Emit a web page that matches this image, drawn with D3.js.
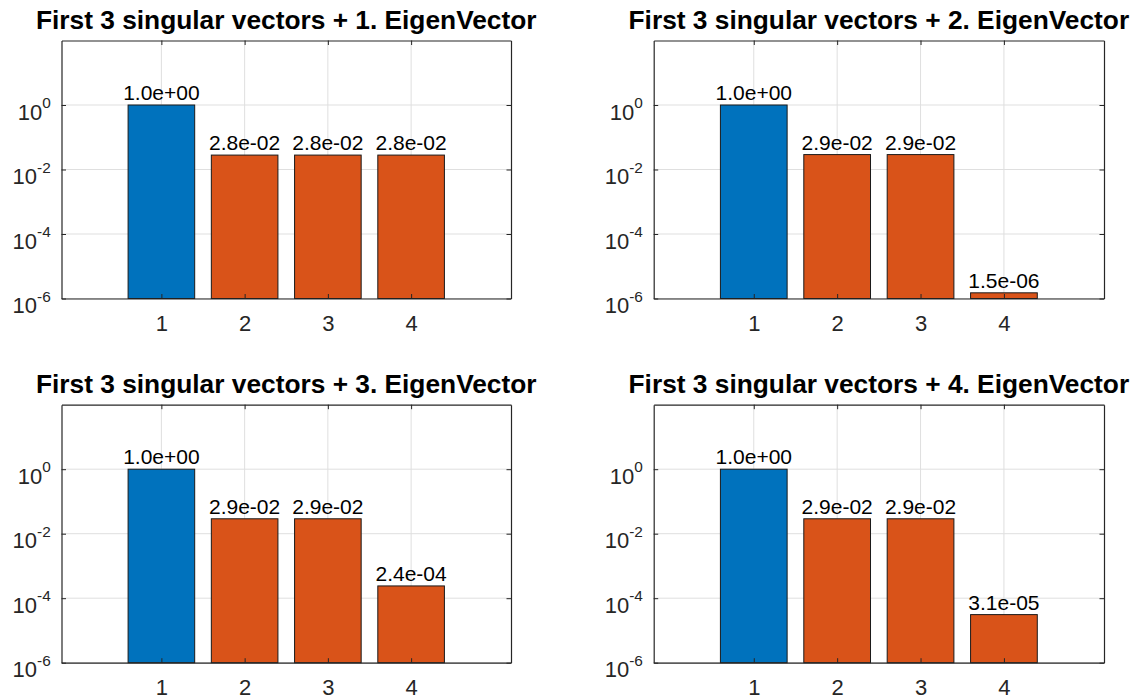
<!DOCTYPE html>
<html><head><meta charset="utf-8">
<script src="https://cdn.jsdelivr.net/npm/d3@7"></script>
<style>body{margin:0;background:#fff} svg{display:block}</style>
</head><body>
<script>
// ---- data ----
const categories = [1, 2, 3, 4];
const titles = [
  "First 3 singular vectors + 1. EigenVector",
  "First 3 singular vectors + 2. EigenVector",
  "First 3 singular vectors + 3. EigenVector",
  "First 3 singular vectors + 4. EigenVector"
];
const values1 = [1.0, 2.8e-2, 2.8e-2, 2.8e-2];
const values2 = [1.0, 2.9e-2, 2.9e-2, 1.5e-6];
const values3 = [1.0, 2.9e-2, 2.9e-2, 2.4e-4];
const values4 = [1.0, 2.9e-2, 2.9e-2, 3.1e-5];
const yTicks = [1e-6, 1e-4, 1e-2, 1];
const yTickExponents = ["-6", "-4", "-2", "0"];
const xTicks = [1, 2, 3, 4];
const xDomain = [-0.2, 5.2];
const yDomain = [1e-6, 1e2];

const allValues = [values1, values2, values3, values4];

// ---- layout / style ----
const W = 1143, H = 700;
const panels = [
  {x0: 61.5, x1: 511, y0: 40.5, y1: 298.5},
  {x0: 653.7, x1: 1104, y0: 40.5, y1: 298.5},
  {x0: 61.5, x1: 511, y0: 404.7, y1: 662.7},
  {x0: 653.7, x1: 1104, y0: 404.7, y1: 662.7}
];
const blue = "#0072BD", orange = "#D95319";
const axisColor = "#262626", gridColor = "#dfdfdf";
const font = "'Liberation Sans', Arial, Helvetica, sans-serif";
const tickLen = 4.5;

function fmtExp(v) {
  let s = v.toExponential(1);           // e.g. 2.8e-2
  return s.replace(/e([+-])(\d)$/, "e$10$2");
}

const svg = d3.select("body").append("svg")
  .attr("width", W).attr("height", H)
  .style("font-family", font);

panels.forEach((p, i) => {
  const vals = allValues[i];
  const xs = d3.scaleLinear().domain(xDomain).range([p.x0, p.x1]);
  const ys = d3.scaleLog().domain(yDomain).range([p.y1, p.y0]);
  const g = svg.append("g");

  // grid
  g.append("g").selectAll("line.gx").data(xTicks).join("line")
    .attr("x1", d => xs(d)).attr("x2", d => xs(d))
    .attr("y1", p.y0).attr("y2", p.y1)
    .attr("stroke", gridColor).attr("stroke-width", 1);
  g.append("g").selectAll("line.gy").data(yTicks).join("line")
    .attr("x1", p.x0).attr("x2", p.x1)
    .attr("y1", d => ys(d)).attr("y2", d => ys(d))
    .attr("stroke", gridColor).attr("stroke-width", 1);

  // bars
  const data = categories.map((c, k) => ({c, v: vals[k], k}));
  g.append("g").selectAll("rect").data(data).join("rect")
    .attr("x", d => xs(d.c - 0.4))
    .attr("width", d => xs(d.c + 0.4) - xs(d.c - 0.4))
    .attr("y", d => ys(d.v))
    .attr("height", d => ys(yDomain[0]) - ys(d.v))
    .attr("fill", d => d.k === 0 ? blue : orange)
    .attr("stroke", "#1a1a1a").attr("stroke-width", 1);

  // bar labels
  g.append("g").selectAll("text").data(data).join("text")
    .attr("x", d => xs(d.c))
    .attr("y", d => ys(d.v) - 5)
    .attr("text-anchor", "middle")
    .attr("font-size", 21)
    .attr("fill", "#000")
    .text(d => fmtExp(d.v));

  // axes (box + ticks, on top)
  const xAxisB = d3.axisBottom(xs).tickValues(xTicks).tickSize(-tickLen).tickSizeOuter(0).tickFormat(d3.format("d"));
  const xAxisT = d3.axisTop(xs).tickValues(xTicks).tickSize(-tickLen).tickSizeOuter(0).tickFormat("");
  const yAxisL = d3.axisLeft(ys).tickValues(yTicks).tickSize(-tickLen).tickSizeOuter(0);
  const yAxisR = d3.axisRight(ys).tickValues(yTicks).tickSize(-tickLen).tickSizeOuter(0).tickFormat("");

  const gb = g.append("g").attr("transform", `translate(0,${p.y1})`).call(xAxisB);
  gb.selectAll("text").attr("y", 32).attr("dy", null)
    .attr("font-size", 22).attr("font-family", font).attr("fill", axisColor);
  g.append("g").attr("transform", `translate(0,${p.y0})`).call(xAxisT);
  const gl = g.append("g").attr("transform", `translate(${p.x0},0)`).call(yAxisL);
  gl.selectAll("text").each(function(d, j) {
    const t = d3.select(this);
    t.text(null).attr("x", -10.8).attr("dy", null).attr("y", 0)
      .attr("font-family", font).attr("fill", axisColor).attr("text-anchor", "end");
    const idx = yTicks.indexOf(d);
    t.append("tspan").attr("dy", 14).attr("font-size", 22).text("10");
    t.append("tspan").attr("dy", -11.3).attr("font-size", 15.4).text(yTickExponents[idx]);
  });
  g.append("g").attr("transform", `translate(${p.x1},0)`).call(yAxisR);

  g.selectAll(".domain").attr("stroke", axisColor).attr("stroke-width", 1.2);
  g.selectAll(".tick line").attr("stroke", axisColor).attr("stroke-width", 1);

  // title
  svg.append("text")
    .attr("x", (p.x0 + p.x1) / 2)
    .attr("y", p.y0 - 11.3)
    .attr("text-anchor", "middle")
    .attr("font-size", 26.3)
    .attr("font-weight", "bold")
    .attr("fill", "#000")
    .text(titles[i]);
});
</script>
</body></html>
